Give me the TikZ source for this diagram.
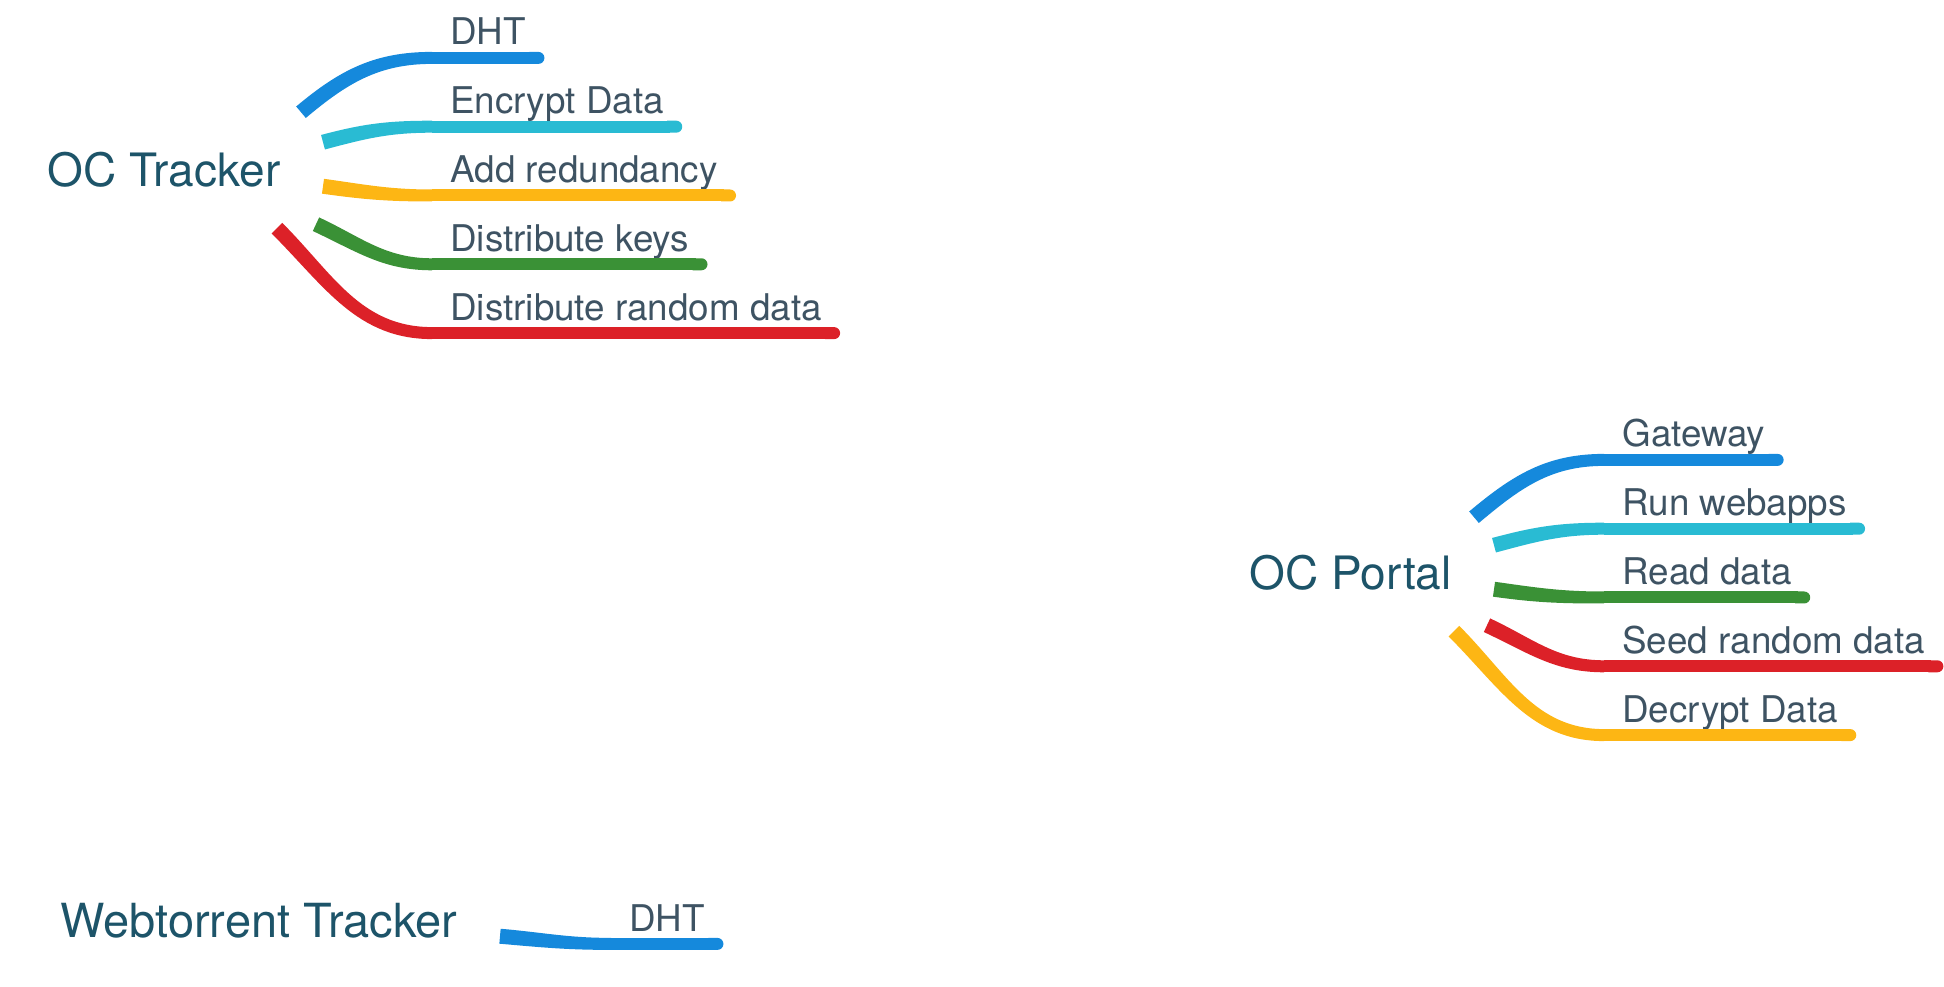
\documentclass[tikz,border=0pt]{standalone}
\usepackage{fontspec}
\setmainfont{TeX Gyre Heros}
\usetikzlibrary{positioning,arrows.meta}
\definecolor{hubtext}{HTML}{1D5469}
\definecolor{leaftext}{HTML}{3E5363}
\definecolor{mmblue}{HTML}{1589DC}
\definecolor{mmcyan}{HTML}{29BBD3}
\definecolor{mmyellow}{HTML}{FDB614}
\definecolor{mmgreen}{HTML}{3A9136}
\definecolor{mmred}{HTML}{DC2128}
\tikzset{
	hub/.style = {anchor=base east, inner sep=0, text=hubtext,
	 font=\fontsize{23}{26}\selectfont}}
\tikzset{
	leaf/.style = {inner xsep=9pt, inner ysep=0, text height=13pt, text depth=6.25pt,
	 text=leaftext, font=\fontsize{18.4}{20}\selectfont},
	branch/.style = {line width=6pt, line cap=butt, -{Round Cap[]}}}
% tapered branch: colour, start, out angle, leaf node
\newcommand{\twig}[4]{%
	\fill [#1] ([shift={({-3.75*sin(#3)},{3.75*cos(#3)})}]#2) to[out=#3, in=180]
	 ([yshift=3pt]#4.south west) -- ([yshift=-3pt]#4.south west) to[out=180, in=#3]
	 ([shift={({3.75*sin(#3)},{-3.75*cos(#3)})}]#2) -- cycle;
	\draw [branch, #1] (#4.south west) -- (#4.south east);}

\begin{document}
\begin{tikzpicture}[node distance=14.75pt, x=1pt, y=1pt]
\useasboundingbox (0,0) rectangle (972,493);

% NODES
% tracker
\node (trk) [hub] at (140.5,399.5) {OC Tracker};
\node (tdht) [leaf, anchor=base west] at (216,470.5) {DHT};
\node (tenc) [leaf, below=of tdht.south west, anchor=north west] {Encrypt Data};
\node (tred) [leaf, below=of tenc.south west, anchor=north west] {Add redundancy};
\node (tkey) [leaf, below=of tred.south west, anchor=north west] {Distribute keys};
\node (trnd) [leaf, below=of tkey.south west, anchor=north west] {Distribute random data};
\coordinate (trk-s1) at ([xshift=10pt,yshift=29pt]trk.east);
\coordinate (trk-s2) at ([xshift=21pt,yshift=14pt]trk.east);
\coordinate (trk-s3) at ([xshift=21pt,yshift=-8pt]trk.east);
\coordinate (trk-s4) at ([xshift=17.5pt,yshift=-27pt]trk.east);
\coordinate (trk-s5) at ([xshift=-2pt,yshift=-29pt]trk.east);
% portal
\node (por) [hub] at (726,198) {OC Portal};
\node (pgw) [leaf, anchor=base west] at (802,269.5) {Gateway};
\node (papp) [leaf, below=of pgw.south west, anchor=north west] {Run webapps};
\node (pread) [leaf, below=of papp.south west, anchor=north west] {Read data};
\node (pseed) [leaf, below=of pread.south west, anchor=north west] {Seed random data};
\node (pdec) [leaf, below=of pseed.south west, anchor=north west] {Decrypt Data};
\coordinate (por-s1) at ([xshift=11pt,yshift=28pt]por.east);
\coordinate (por-s2) at ([xshift=21pt,yshift=14pt]por.east);
\coordinate (por-s3) at ([xshift=21pt,yshift=-8pt]por.east);
\coordinate (por-s4) at ([xshift=17.5pt,yshift=-26pt]por.east);
\coordinate (por-s5) at ([xshift=1pt,yshift=-29pt]por.east);
% webtorrent
\node (web) [hub, font=\fontsize{23.5}{26}\selectfont] at (229,24.5) {Webtorrent Tracker};
\node (wdht) [leaf, anchor=base west] at (305.5,27.5) {DHT};
\coordinate (web-s3) at ([xshift=21pt,yshift=-8pt]web.east);

%CONNECTIONS
\twig{mmblue}{trk-s1}{40}{tdht}
\twig{mmcyan}{trk-s2}{15}{tenc}
\twig{mmyellow}{trk-s3}{-8}{tred}
\twig{mmgreen}{trk-s4}{-25}{tkey}
\twig{mmred}{trk-s5}{-45}{trnd}
\twig{mmblue}{por-s1}{40}{pgw}
\twig{mmcyan}{por-s2}{15}{papp}
\twig{mmgreen}{por-s3}{-8}{pread}
\twig{mmred}{por-s4}{-25}{pseed}
\twig{mmyellow}{por-s5}{-45}{pdec}
\twig{mmblue}{web-s3}{-5}{wdht}

\end{tikzpicture}
\end{document}
